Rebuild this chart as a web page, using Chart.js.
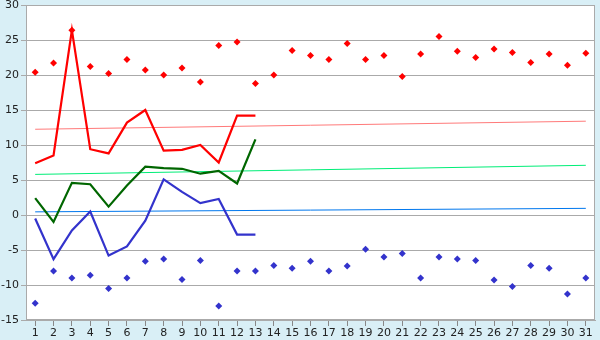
<!DOCTYPE html>
<html><head><meta charset="utf-8">
<script src="https://cdn.jsdelivr.net/npm/chart.js@4"></script>
<style>html,body{margin:0;padding:0;background:#d9eff6;}#wrap{width:600px;height:340px;}</style>
</head><body><div id="wrap"><canvas id="c" width="600" height="340"></canvas></div>
<script>
const days = ['1','2','3','4','5','6','7','8','9','10','11','12','13','14','15','16','17','18','19','20','21','22','23','24','25','26','27','28','29','30','31'];
const histMax = [20.4,21.7,26.4,21.2,20.2,22.2,20.7,20.0,21.0,19.0,24.2,24.7,18.8,20.0,23.5,22.8,22.2,24.5,22.2,22.8,19.8,23.0,25.5,23.4,22.5,23.7,23.2,21.8,23.0,21.4,23.1];
const histMin = [-12.6,-8.0,-9.0,-8.6,-10.5,-9.0,-6.6,-6.3,-9.2,-6.5,-13.0,-8.0,-8.0,-7.2,-7.6,-6.6,-8.0,-7.3,-4.9,-6.0,-5.5,-9.0,-6.0,-6.3,-6.5,-9.3,-10.2,-7.2,-7.6,-11.3,-9.0];
const curMax = [7.4,8.5,26.4,9.4,8.8,13.2,15.0,9.2,9.3,10.0,7.5,14.2,14.2];
const curMean = [2.4,-1.0,4.6,4.4,1.2,4.2,6.9,6.7,6.6,5.9,6.3,4.5,10.8];
const curMin = [-0.5,-6.3,-2.2,0.5,-5.8,-4.5,-0.8,5.1,3.3,1.7,2.3,-2.8,-2.8];
const normMaxEnds = [12.25, 13.4];
const normMeanEnds = [5.8, 7.1];
const normMinEnds = [0.45, 0.95];
const yTicks = [-15,-10,-5,0,5,10,15,20,25,30];

function ends(e){ return [{x:days[0], y:e[0]}, {x:days[days.length-1], y:e[1]}]; }

const borderPlugin = {
  id:'frame',
  beforeDraw(chart){
    const {ctx, chartArea:a} = chart;
    ctx.save();
    ctx.fillStyle = '#ffffff';
    ctx.fillRect(a.left, a.top, a.right-a.left, a.bottom-a.top);
    ctx.restore();
  },
  afterDraw(chart){
    const {ctx, chartArea:a} = chart;
    ctx.save();
    ctx.strokeStyle = '#aaaaaa';
    ctx.lineWidth = 1;
    ctx.strokeRect(Math.round(a.left)+0.5, Math.round(a.top)+0.5, Math.round(a.right-a.left)-1, Math.round(a.bottom-a.top)-1);
    ctx.restore();
  }
};

new Chart(document.getElementById('c'), {
  type: 'line',
  data: {
    labels: days,
    datasets: [
      {data: ends(normMaxEnds), borderColor:'#ff7a7a', borderWidth:1, pointRadius:0, fill:false, order:5},
      {data: ends(normMeanEnds), borderColor:'#00ee77', borderWidth:1, pointRadius:0, fill:false, order:5},
      {data: ends(normMinEnds), borderColor:'#0077ee', borderWidth:1, pointRadius:0, fill:false, order:5},
      {data: curMax, borderColor:'#ff0000', borderWidth:2.2, pointRadius:0, tension:0, fill:false, order:2},
      {data: curMean, borderColor:'#006600', borderWidth:2.2, pointRadius:0, tension:0, fill:false, order:2},
      {data: curMin, borderColor:'#3333cc', borderWidth:2.2, pointRadius:0, tension:0, fill:false, order:2},
      {data: histMax, showLine:false, pointStyle:'rectRot', pointRadius:3.5, backgroundColor:'#ff0000', borderColor:'#ff0000', borderWidth:0, order:1},
      {data: histMin, showLine:false, pointStyle:'rectRot', pointRadius:3.5, backgroundColor:'#3333cc', borderColor:'#3333cc', borderWidth:0, order:1}
    ]
  },
  options: {
    responsive:false,
    animation:false,
    events:[],
    layout:{padding:{top:5,right:5,left:0,bottom:0}},
    plugins:{legend:{display:false}, tooltip:{enabled:false}},
    scales:{
      x:{
        type:'category',
        offset:true,
        grid:{display:true, drawOnChartArea:false, drawTicks:true, tickLength:6, color:'#888888', offset:false},
        border:{display:true, color:'#aaaaaa'},
        ticks:{color:'#222222', font:{family:'DejaVu Sans', size:11}, padding:1, maxRotation:0, autoSkip:false},
        afterFit(s){ s.height = 20; s.paddingLeft = 0; s.paddingRight = 0; }
      },
      y:{
        min:-15, max:30,
        afterBuildTicks(s){ s.ticks = yTicks.map(v=>({value:v})); },
        grid:{color:'#aaaaaa', drawTicks:true, tickLength:5, lineWidth:1},
        border:{display:true, color:'#aaaaaa'},
        ticks:{color:'#222222', font:{family:'DejaVu Sans', size:11}, padding:2},
        afterFit(s){ s.width = 26; s.paddingTop = 0; s.paddingBottom = 0; }
      }
    }
  },
  plugins:[borderPlugin]
});
</script>
</body></html>
